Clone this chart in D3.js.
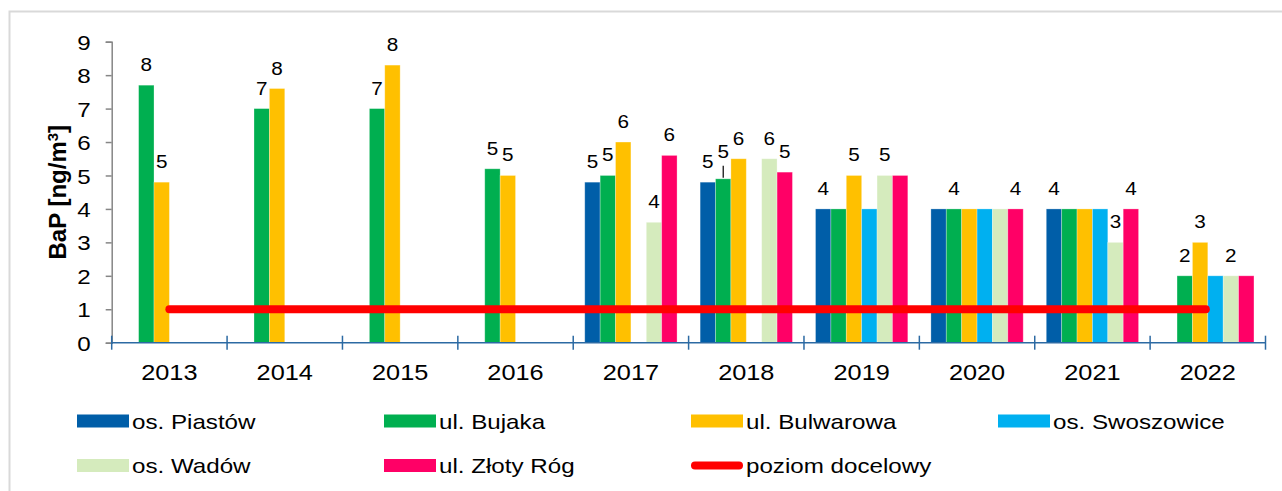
<!DOCTYPE html>
<html>
<head>
<meta charset="utf-8">
<script src="https://cdn.jsdelivr.net/npm/d3@7"></script>
<style>
  body { margin: 0; background: #fff; }
  text { font-family: "Liberation Sans", Arial, sans-serif; fill: #000; }
</style>
</head>
<body>
<script>

// data
var years = ["2013","2014","2015","2016","2017","2018","2019","2020","2021","2022"];
var stations = ["os. Piastów","ul. Bujaka","ul. Bulwarowa","os. Swoszowice","os. Wadów","ul. Złoty Róg"];
var colors = ["#005EA8","#00AF50","#FFC000","#00B0F0","#D5EBBD","#FF0066"];

var piastow    = [null,null,null,null,4.8,4.8,4,4,4,null];
var bujaka     = [7.7,7.0,7.0,5.2,5.0,4.9,4,4,4,2];
var bulwarowa  = [4.8,7.6,8.3,5.0,6.0,5.5,5,4,4,3];
var swoszowice = [null,null,null,null,null,null,4,4,4,2];
var wadow      = [null,null,null,null,3.6,5.5,5,4,3,2];
var zlotyRog   = [null,null,null,null,5.6,5.1,5,4,4,2];

// which bars carry a value label (1 = shown)
var showPiastow    = [0,0,0,0,1,1,1,0,1,0];
var showBujaka     = [1,1,1,1,1,1,0,1,0,1];
var showBulwarowa  = [1,1,1,1,1,1,1,0,0,1];
var showSwoszowice = [0,0,0,0,0,0,0,0,0,0];
var showWadow      = [0,0,0,0,1,1,1,0,1,1];
var showZlotyRog   = [0,0,0,0,1,1,0,1,1,0];

var targetLevel = 1;   // poziom docelowy
var targetName = "poziom docelowy";
var yTicks = [0,1,2,3,4,5,6,7,8,9];

var values = [piastow, bujaka, bulwarowa, swoszowice, wadow, zlotyRog];
var shows = [showPiastow, showBujaka, showBulwarowa, showSwoszowice, showWadow, showZlotyRog];

var W = 1282, H = 491;
var margin = {top: 41.7, left: 111.7, right: 16.5, bottom: 148.3};
var SX = 1.15; // the original text is a bit wider than Arial

// widen text glyphs horizontally
function stretch(sel) {
  sel.each(function() {
    var w = this.getComputedTextLength();
    d3.select(this).attr("textLength", w * SX).attr("lengthAdjust", "spacingAndGlyphs");
  });
}

var svg = d3.select("body").append("svg")
    .attr("width", W)
    .attr("height", H);

// frame
svg.append("rect")
    .attr("x", 9.5).attr("y", 11.5)
    .attr("width", W + 10).attr("height", H + 10)
    .attr("fill", "none")
    .attr("stroke", "#D9D9D9")
    .attr("stroke-width", 2);

var x0 = d3.scaleBand().domain(years).range([margin.left, W - margin.right]).padding(0);
var x1 = d3.scaleBand().domain(d3.range(stations.length))
    .range([x0.bandwidth() * 0.1, x0.bandwidth() * 0.9]).padding(0);
var y = d3.scaleLinear().domain([0, 9]).range([H - margin.bottom, margin.top]);

// y axis
var yAxis = svg.append("g")
    .attr("transform", "translate(" + margin.left + ",0)")
    .call(d3.axisLeft(y).tickValues(yTicks).tickSize(6).tickPadding(15));
yAxis.select(".domain").attr("stroke", "#868686").attr("stroke-width", 1.5);
yAxis.selectAll(".tick line").attr("stroke", "#868686").attr("stroke-width", 1.5);
yAxis.selectAll("text")
    .attr("font-size", 21)
    .attr("font-family", "Liberation Sans, Arial")
    .attr("dy", "0.36em")
    .call(stretch);

var title = svg.append("text")
    .attr("transform", "translate(66," + ((y(0) + y(9)) / 2) + ") rotate(-90)")
    .attr("text-anchor", "middle")
    .attr("font-size", 24)
    .attr("font-weight", "bold");
title.append("tspan").text("BaP [ng/m");
title.append("tspan").attr("dy", -8).attr("font-size", 15).text("3");
title.append("tspan").attr("dy", 8).text("]");

// bars
var groups = svg.append("g").selectAll("g")
    .data(years)
  .enter().append("g")
    .attr("transform", function(d) { return "translate(" + x0(d) + ",0)"; });

groups.selectAll("rect")
    .data(function(d, i) {
      return values.map(function(s, k) { return {k: k, v: s[i]}; })
        .filter(function(e) { return e.v != null; });
    })
  .enter().append("rect")
    .attr("x", function(d) { return x1(d.k); })
    .attr("width", x1.bandwidth())
    .attr("y", function(d) { return y(d.v); })
    .attr("height", function(d) { return y(0) - y(d.v); })
    .attr("fill", function(d) { return colors[d.k]; })
    .attr("stroke", "#fff")
    .attr("stroke-opacity", 0.35)
    .attr("stroke-width", 0.8);

// x axis
var xAxisY = y(0);
svg.append("line")
    .attr("x1", x0.range()[0]).attr("x2", x0.range()[1])
    .attr("y1", xAxisY).attr("y2", xAxisY)
    .attr("stroke", "#2C6AA3").attr("stroke-width", 1.5);
var bounds = years.map(function(d) { return x0(d); }).concat([x0.range()[1]]);
svg.append("g").selectAll("line")
    .data(bounds)
  .enter().append("line")
    .attr("x1", function(d) { return d; }).attr("x2", function(d) { return d; })
    .attr("y1", xAxisY - 7).attr("y2", xAxisY + 7)
    .attr("stroke", "#2C6AA3").attr("stroke-width", 1.5);
svg.append("g").selectAll("text")
    .data(years)
  .enter().append("text")
    .attr("x", function(d) { return x0(d) + x0.bandwidth() / 2; })
    .attr("y", xAxisY + 37)
    .attr("text-anchor", "middle")
    .attr("font-size", 22)
    .text(function(d) { return d; })
    .call(stretch);

// target level line
svg.append("line")
    .attr("x1", x0(years[0]) + x0.bandwidth() / 2)
    .attr("x2", x0(years[years.length - 1]) + x0.bandwidth() / 2 - 2)
    .attr("y1", y(targetLevel)).attr("y2", y(targetLevel))
    .attr("stroke", "#FF0000")
    .attr("stroke-width", 8)
    .attr("stroke-linecap", "round");

// value labels
groups.selectAll("text.val")
    .data(function(d, i) {
      return values.map(function(s, k) { return {k: k, v: s[i], show: shows[k][i], year: d}; })
        .filter(function(e) { return e.v != null && e.show; });
    })
  .enter().append("text")
    .attr("class", "val")
    .attr("x", function(d) { return x1(d.k) + x1.bandwidth() / 2; })
    .attr("y", function(d) {
      var lift = (d.year === "2018" && d.k === 1) ? 7 : 0;
      return y(d.v) - 14 - lift;
    })
    .attr("text-anchor", "middle")
    .attr("font-size", 18)
    .text(function(d) { return Math.round(d.v); })
    .call(stretch);

// leader line for the lifted 2018 label
var i18 = years.indexOf("2018");
svg.append("line")
    .attr("x1", x0("2018") + x1(1) + x1.bandwidth() / 2)
    .attr("x2", x0("2018") + x1(1) + x1.bandwidth() / 2)
    .attr("y1", y(bujaka[i18]) - 13)
    .attr("y2", y(bujaka[i18]) - 1)
    .attr("stroke", "#000").attr("stroke-width", 1.2);

// legend
var legendItems = stations.map(function(s, k) { return {name: s, color: colors[k], line: false}; })
    .concat([{name: targetName, color: "#FF0000", line: true}]);
var legend = svg.append("g").selectAll("g")
    .data(legendItems)
  .enter().append("g")
    .attr("transform", function(d, i) {
      return "translate(" + (77 + (i % 4) * 307) + "," + (421 + Math.floor(i / 4) * 44.5) + ")";
    });
legend.filter(function(d) { return !d.line; }).append("rect")
    .attr("x", 0).attr("y", -6.5)
    .attr("width", 52).attr("height", 13)
    .attr("fill", function(d) { return d.color; });
legend.filter(function(d) { return d.line; }).append("line")
    .attr("x1", 4).attr("x2", 48)
    .attr("y1", 0).attr("y2", 0)
    .attr("stroke", function(d) { return d.color; })
    .attr("stroke-width", 8)
    .attr("stroke-linecap", "round");
legend.append("text")
    .attr("x", 55)
    .attr("y", 7.5)
    .attr("font-size", 21)
    .text(function(d) { return d.name; })
    .call(stretch);

</script>
</body>
</html>
